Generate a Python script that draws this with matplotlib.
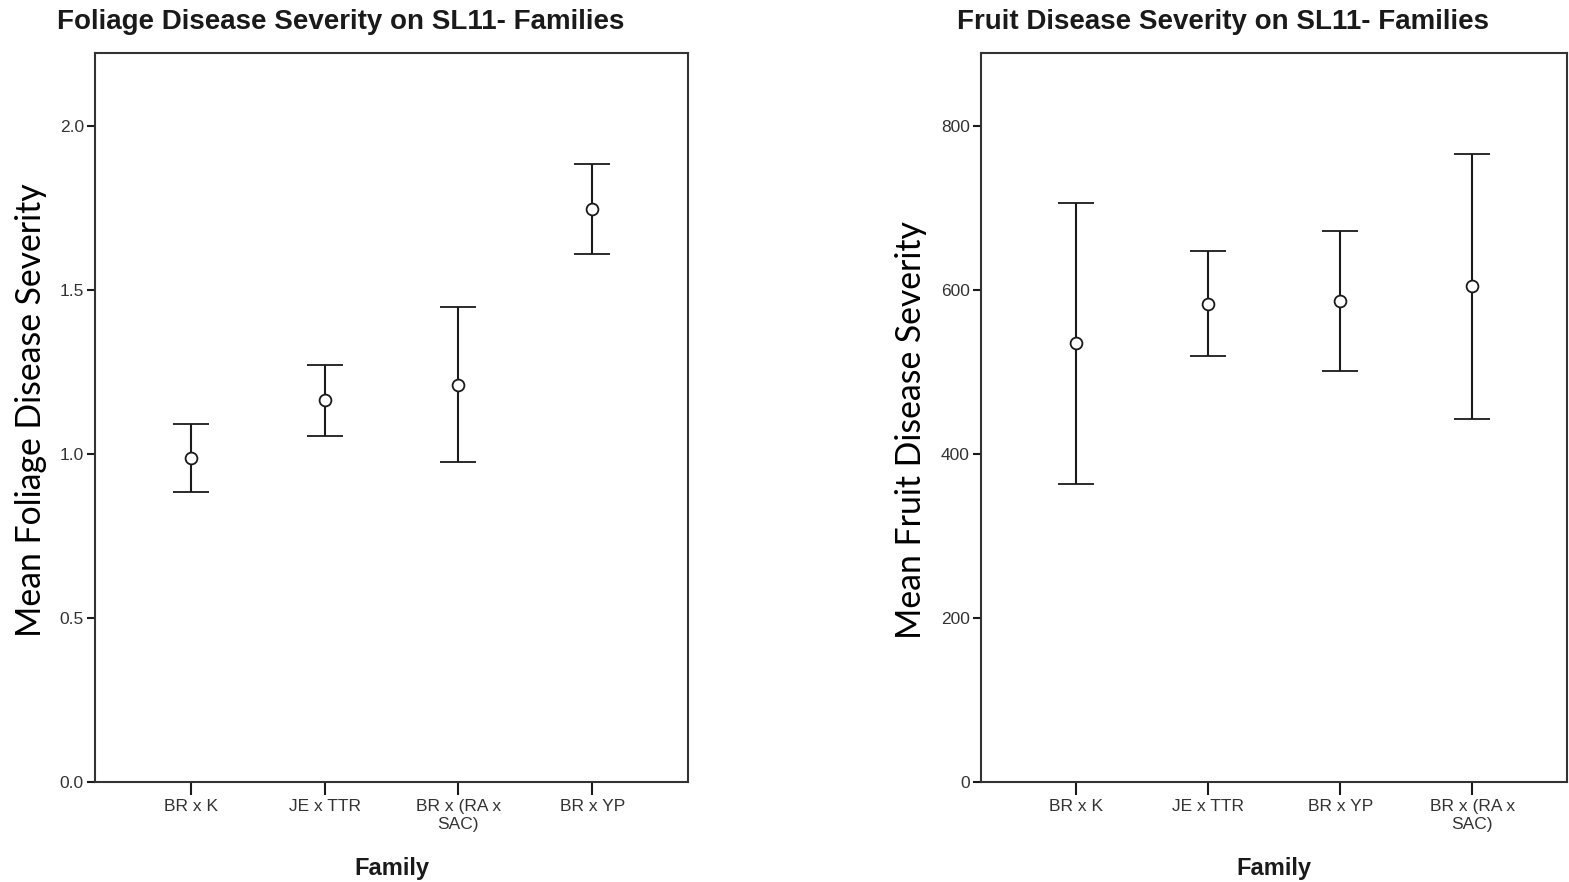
import matplotlib
matplotlib.use("Agg")
import matplotlib.pyplot as plt

# Foliage panel data
fol_cats = ["BR x K", "JE x TTR", "BR x (RA x\nSAC)", "BR x YP"]
fol_mean = [0.988, 1.165, 1.210, 1.747]
fol_low = [0.884, 1.055, 0.976, 1.610]
fol_high = [1.091, 1.271, 1.448, 1.884]
fol_yticks = [0.0, 0.5, 1.0, 1.5, 2.0]
fol_yticklabels = ["0.0", "0.5", "1.0", "1.5", "2.0"]

# Fruit panel data
fru_cats = ["BR x K", "JE x TTR", "BR x YP", "BR x (RA x\nSAC)"]
fru_mean = [535, 583, 587, 605]
fru_low = [363, 520, 501, 443]
fru_high = [706, 648, 672, 766]
fru_yticks = [0, 200, 400, 600, 800]
fru_yticklabels = ["0", "200", "400", "600", "800"]

W, H = 1569, 882
fig = plt.figure(figsize=(W / 100, H / 100), dpi=100)

def make_axes(px_left, px_right, px_top, px_bottom):
    return fig.add_axes([px_left / W, 1 - px_bottom / H,
                         (px_right - px_left) / W, (px_bottom - px_top) / H])

ax1 = make_axes(95, 688, 53, 782)
ax2 = make_axes(981, 1567, 53, 782)

ink = "#1a1a1a"

def draw(ax, cats, mean, low, high, yticks, ylabels, ymax, title, title_x):
    x = list(range(len(cats)))
    yerr = [[m - l for m, l in zip(mean, low)], [h - m for m, h in zip(mean, high)]]
    ax.errorbar(x, mean, yerr=yerr, fmt="o", mfc="white", mec=ink, ecolor=ink,
                color=ink, markersize=8.5, mew=1.3, elinewidth=1.5, capsize=13,
                capthick=1.5, zorder=3)
    ax.set_xlim(-0.715, len(cats) - 1 + 0.715)
    ax.set_ylim(0, ymax)
    ax.set_xticks(x)
    ax.set_xticklabels(cats, family="Liberation Sans", fontsize=12.5,
                       color="#333333", linespacing=1.3)
    ax.set_yticks(yticks)
    ax.set_yticklabels(ylabels, family="Liberation Sans", fontsize=12.5,
                       color="#333333")
    ax.tick_params(axis="x", length=9, width=1.5, color=ink, pad=3)
    ax.tick_params(axis="y", length=6, width=1.5, color=ink, pad=2)
    for s in ax.spines.values():
        s.set_linewidth(1.5)
        s.set_color("#333333")
    ax.set_xlabel("Family", family="Liberation Sans", fontsize=17,
                  fontweight="bold", color=ink, labelpad=18)
    fig.text(title_x / W, 1 - 22 / H, title, family="Liberation Sans",
             fontsize=20, fontweight="bold", color=ink, ha="left", va="center")

draw(ax1, fol_cats, fol_mean, fol_low, fol_high, fol_yticks, fol_yticklabels,
     2.2226, "Foliage Disease Severity on SL11- Families", 57)
draw(ax2, fru_cats, fru_mean, fru_low, fru_high, fru_yticks, fru_yticklabels,
     889, "Fruit Disease Severity on SL11- Families", 957)

fig.text(31 / W, 1 - 410 / H, "Mean Foliage Disease Severity", family="Lato",
         fontsize=24.3, rotation=90, ha="center", va="center", color="black")
fig.text(911 / W, 1 - 430 / H, "Mean Fruit Disease Severity", family="Lato",
         fontsize=24.3, rotation=90, ha="center", va="center", color="black")

fig.savefig("out.png", dpi=100)
